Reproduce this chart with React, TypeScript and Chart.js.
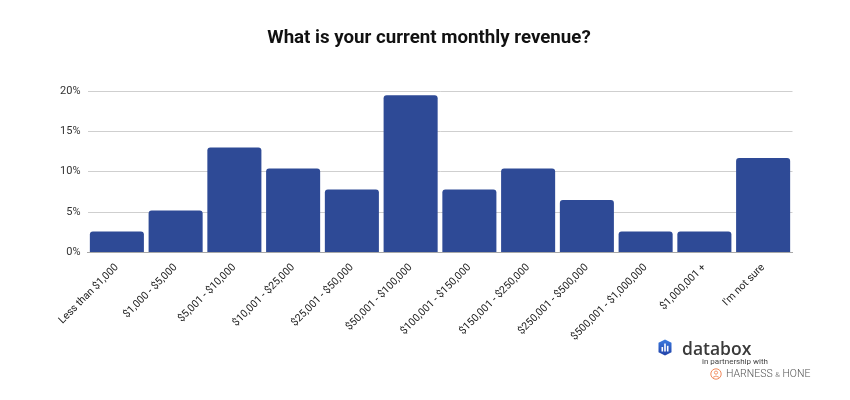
import React, { useEffect, useRef } from "react";
import { Chart, registerables } from "chart.js";

Chart.register(...registerables);

const categories = [
  "Less than $1,000",
  "$1,000 - $5,000",
  "$5,001 - $10,000",
  "$10,001 - $25,000",
  "$25,001 - $50,000",
  "$50,001 - $100,000",
  "$100,001 - $150,000",
  "$150,001 - $250,000",
  "$250,001 - $500,000",
  "$500,001 - $1,000,000",
  "$1,000,001 +",
  "I'm not sure",
];
const shares = [2.6, 5.19, 12.99, 10.39, 7.79, 19.48, 7.79, 10.39, 6.49, 2.6, 2.6, 11.69];
const yTicks = [0, 5, 10, 15, 20];
const title = "What is your current monthly revenue?";

const titlePlugin = {
  id: "centerTitle",
  afterDraw(chart: any) {
    const ctx = chart.ctx;
    ctx.save();
    ctx.font = "bold 18.7px Roboto";
    ctx.fillStyle = "#111";
    ctx.textAlign = "center";
    ctx.textBaseline = "alphabetic";
    ctx.fillText(title, 429, 43);
    ctx.restore();
  },
};

export default function App() {
  const ref = useRef<HTMLCanvasElement>(null);
  useEffect(() => {
    if (!ref.current) return;
    const chart = new Chart(ref.current, {
      type: "bar",
      data: {
        labels: categories,
        datasets: [
          {
            data: shares,
            backgroundColor: "#2e4a96",
            borderRadius: 3,
            borderSkipped: "bottom",
            barPercentage: 0.92,
            categoryPercentage: 1,
          },
        ],
      },
      plugins: [titlePlugin],
      options: {
        responsive: false,
        animation: false,
        layout: { padding: { left: 0, right: 57.5, top: 91, bottom: 48 } },
        plugins: {
          legend: { display: false },
          tooltip: { enabled: false },
          title: { display: false },
        },
        scales: {
          x: {
            grid: { display: false, drawTicks: false },
            border: { display: true, color: "#a8a8a8", width: 1 },
            ticks: {
              autoSkip: false,
              minRotation: 45,
              maxRotation: 45,
              color: "#222",
              padding: 9,
              font: { family: "Roboto", size: 10.5 },
            },
          },
          y: {
            min: 0,
            max: 20,
            afterFit: (s: any) => {
              s.width = 87.5;
            },
            afterBuildTicks: (s: any) => {
              s.ticks = yTicks.map((v) => ({ value: v }));
            },
            border: { display: false },
            grid: { color: "#cfcfcf", drawTicks: false },
            ticks: {
              padding: 7,
              color: "#333",
              font: { family: "Roboto", size: 11 },
              callback: (v: any) => v + "%",
            },
          },
        },
      },
    });
    return () => chart.destroy();
  }, []);

  return (
    <div style={{ position: "fixed", left: 0, top: 0, width: 850, height: 400, background: "#fff" }}>
      <canvas ref={ref} width={850} height={400} style={{ display: "block" }} />
      <svg
        style={{ position: "absolute", left: 658, top: 339 }}
        width={14}
        height={17}
        viewBox="0 0 14 17"
      >
        <defs>
          <linearGradient id="dbg" x1="0" y1="0" x2="0" y2="1">
            <stop offset="0" stopColor="#3b7be0" />
            <stop offset="1" stopColor="#2242a8" />
          </linearGradient>
        </defs>
        <path d="M7 0.5 L13.5 3.8 L13.5 13.2 L7 16.5 L0.5 13.2 L0.5 3.8 Z" fill="url(#dbg)" />
        <rect x="3.5" y="8" width="1.6" height="4.5" fill="#fff" />
        <rect x="6.2" y="4.5" width="1.6" height="8" fill="#fff" />
        <rect x="8.9" y="6.8" width="1.6" height="5.7" fill="#fff" />
      </svg>
      <div
        style={{
          position: "absolute",
          left: 682,
          top: 337,
          fontFamily: "Open Sans",
          fontSize: 17.5,
          fontWeight: 600,
          color: "#3a3a3a",
          lineHeight: "22px",
        }}
      >
        databox
      </div>
      <div
        style={{
          position: "absolute",
          left: 702,
          top: 357,
          fontFamily: "Roboto",
          fontSize: 8,
          color: "#444",
          lineHeight: "10px",
          whiteSpace: "nowrap",
        }}
      >
        in partnership with
      </div>
      <svg style={{ position: "absolute", left: 710, top: 368 }} width={12} height={12} viewBox="0 0 12 12">
        <circle cx="6" cy="6" r="5.2" fill="none" stroke="#f08a5d" strokeWidth="1" />
        <circle cx="6" cy="4.6" r="1.6" fill="none" stroke="#f08a5d" strokeWidth="0.9" />
        <path d="M2.5 9.5 Q6 6.5 9.5 9.5" fill="none" stroke="#f08a5d" strokeWidth="0.9" />
      </svg>
      <div
        style={{
          position: "absolute",
          left: 726,
          top: 367,
          fontFamily: "Roboto",
          fontSize: 10.5,
          fontWeight: 300,
          color: "#555",
          lineHeight: "13px",
          whiteSpace: "nowrap",
        }}
      >
        HARNESS <span style={{ fontSize: 7.5 }}>&amp;</span> HONE
      </div>
    </div>
  );
}
